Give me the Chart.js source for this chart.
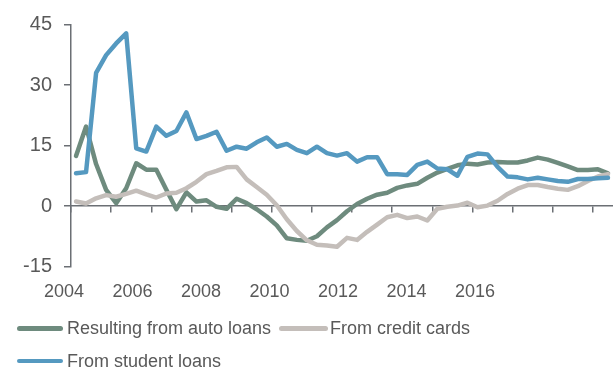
<!DOCTYPE html>
<html>
<head>
<meta charset="utf-8">
<script src="https://cdn.jsdelivr.net/npm/chart.js@4/dist/chart.umd.min.js"></script>
<style>
html,body{margin:0;padding:0;background:#ffffff;}
#wrap{position:relative;width:613px;height:370px;overflow:hidden;}
#c{position:absolute;left:0;top:0;}
.lg{position:absolute;font-family:"Liberation Sans",Arial,sans-serif;font-size:18px;color:#595959;line-height:20px;white-space:nowrap;}
.sw{position:absolute;height:4.5px;border-radius:3px;}
</style>
</head>
<body>
<div id="wrap">
<canvas id="c" width="613" height="370"></canvas>
<div id="legend"></div>
</div>
<script>
// ---- data (quarterly) ----
const quarters = [
  '2004Q1','2004Q2','2004Q3','2004Q4','2005Q1','2005Q2','2005Q3','2005Q4',
  '2006Q1','2006Q2','2006Q3','2006Q4','2007Q1','2007Q2','2007Q3','2007Q4',
  '2008Q1','2008Q2','2008Q3','2008Q4','2009Q1','2009Q2','2009Q3','2009Q4',
  '2010Q1','2010Q2','2010Q3','2010Q4','2011Q1','2011Q2','2011Q3','2011Q4',
  '2012Q1','2012Q2','2012Q3','2012Q4','2013Q1','2013Q2','2013Q3','2013Q4',
  '2014Q1','2014Q2','2014Q3','2014Q4','2015Q1','2015Q2','2015Q3','2015Q4',
  '2016Q1','2016Q2','2016Q3','2016Q4','2017Q1','2017Q2'
];
const yearLabels = [2004, 2006, 2008, 2010, 2012, 2014, 2016];
const yTicks = [-15, 0, 15, 30, 45];
const seriesNames = ['Resulting from auto loans', 'From credit cards', 'From student loans'];
const seriesColors = ['#6e8b7e', '#c4beba', '#5599c0'];

const autoLoans = [
  12.4, 19.7, 10.4, 4.0, 0.7, 4.4, 10.6, 9.0,
  9.0, 4.0, -0.8, 3.4, 1.1, 1.4, -0.2, -0.7,
  1.8, 0.7, -0.8, -2.6, -4.8, -8.0, -8.4, -8.6,
  -7.5, -5.3, -3.5, -1.3, 0.5, 1.8, 2.8, 3.3,
  4.5, 5.1, 5.5, 7.0, 8.3, 9.2, 10.1, 10.5,
  10.3, 10.8, 10.9, 10.8, 10.8, 11.3, 12.0, 11.5,
  10.7, 9.8, 8.9, 8.9, 9.1, 8.1
];
const creditCards = [
  1.1, 0.6, 1.9, 2.7, 2.3, 3.0, 3.8, 2.9,
  2.1, 3.1, 3.3, 4.4, 6.0, 7.9, 8.7, 9.6,
  9.7, 6.6, 4.7, 2.8, 0.2, -3.3, -6.2, -8.5,
  -9.6, -9.8, -10.1, -7.9, -8.4, -6.4, -4.6, -2.8,
  -2.2, -3.0, -2.6, -3.6, -0.7, -0.2, 0.1, 0.8,
  -0.3, 0.1, 1.3, 3.0, 4.3, 5.2, 5.2, 4.7,
  4.3, 4.0, 4.9, 6.2, 7.3, 7.9
];
const studentLoans = [
  8.1, 8.4, 33.0, 37.4, 40.3, 42.8, 14.3, 13.5,
  19.7, 17.4, 18.6, 23.2, 16.6, 17.4, 18.4, 13.7,
  14.7, 14.2, 15.8, 17.0, 14.7, 15.4, 13.9, 13.1,
  14.7, 13.1, 12.5, 13.1, 11.0, 12.1, 12.1, 7.9,
  7.9, 7.7, 10.2, 11.0, 9.3, 9.1, 7.5, 12.2,
  13.0, 12.8, 9.7, 7.3, 7.1, 6.6, 7.0, 6.6,
  6.2, 6.0, 6.7, 6.7, 6.9, 7.0
];

// ---- styles ----
const AXIS = '#6b6f74';
const TEXT = '#595959';
const FONT = {family: '"Liberation Sans", Arial, sans-serif', size: 18};
const YFONT = {family: '"Liberation Sans", Arial, sans-serif', size: 20};
const PLOT_LEFT = 71, PLOT_TOP = 24.5, PLOT_BOTTOM = 266.5, W = 613, H = 370;
const PX_PER_YEAR = 34.25;

function ds(label, data, color, order) {
  return {
    label, data, borderColor: color, backgroundColor: color,
    borderWidth: 4.5, pointRadius: 0, pointHoverRadius: 0, tension: 0,
    borderJoinStyle: 'round', borderCapStyle: 'round', fill: false, order
  };
}

new Chart(document.getElementById('c'), {
  type: 'line',
  data: {
    labels: quarters,
    datasets: [
      ds(seriesNames[0], autoLoans, seriesColors[0], 3),
      ds(seriesNames[1], creditCards, seriesColors[1], 2),
      ds(seriesNames[2], studentLoans, seriesColors[2], 1)
    ]
  },
  options: {
    responsive: false,
    animation: false,
    events: [],
    layout: {padding: {top: PLOT_TOP, left: 0, right: 0, bottom: 0}},
    plugins: {legend: {display: false}, tooltip: {enabled: false}},
    scales: {
      x: {
        type: 'category', axis: 'x',
        position: {y: 0},
        offset: true,
        grid: {
          display: true, offset: true, drawOnChartArea: false, drawTicks: true,
          tickLength: 6, lineWidth: 1.5,
          color: (ctx) => (ctx.index !== undefined && ctx.index % 4 === 0) ? AXIS : 'rgba(0,0,0,0)'
        },
        border: {display: true, color: AXIS, width: 1.5},
        ticks: {display: false, autoSkip: false}
      },
      x2: {
        type: 'linear', axis: 'x', position: 'bottom',
        min: yearLabels[0],
        max: yearLabels[0] + (W - PLOT_LEFT) / PX_PER_YEAR,
        grid: {display: false, drawTicks: false},
        border: {display: false},
        afterBuildTicks: (s) => { s.ticks = yearLabels.map(v => ({value: v})); },
        afterFit: (s) => { s.height = H - PLOT_BOTTOM; },
        ticks: {
          color: TEXT, font: FONT, padding: 15, labelOffset: -7,
          autoSkip: false, maxRotation: 0, minRotation: 0,
          callback: (v) => String(v)
        }
      },
      y: {
        type: 'linear', position: 'left',
        min: yTicks[0], max: yTicks[yTicks.length - 1],
        afterBuildTicks: (s) => { s.ticks = yTicks.map(v => ({value: v})); },
        afterFit: (s) => { s.width = PLOT_LEFT; },
        grid: {display: true, drawOnChartArea: false, drawTicks: true, tickLength: 7, color: AXIS, lineWidth: 1.5},
        border: {display: true, color: AXIS, width: 1.5},
        ticks: {color: TEXT, font: YFONT, padding: 12, callback: (v) => String(v)}
      }
    }
  }
});

// ---- legend (HTML) ----
const legendPos = [
  {sx: 17, sw: 46, tx: 67, cy: 328.3},
  {sx: 279, sw: 49, tx: 330, cy: 328.3},
  {sx: 17, sw: 46, tx: 67, cy: 361}
];
const lg = document.getElementById('legend');
seriesNames.forEach((name, i) => {
  const p = legendPos[i];
  const sw = document.createElement('div');
  sw.className = 'sw';
  sw.style.left = p.sx + 'px';
  sw.style.width = p.sw + 'px';
  sw.style.top = (p.cy - 2.25) + 'px';
  sw.style.background = seriesColors[i];
  lg.appendChild(sw);
  const t = document.createElement('div');
  t.className = 'lg';
  t.style.left = p.tx + 'px';
  t.style.top = (p.cy - 10) + 'px';
  t.textContent = name;
  lg.appendChild(t);
});
</script>
</body>
</html>
